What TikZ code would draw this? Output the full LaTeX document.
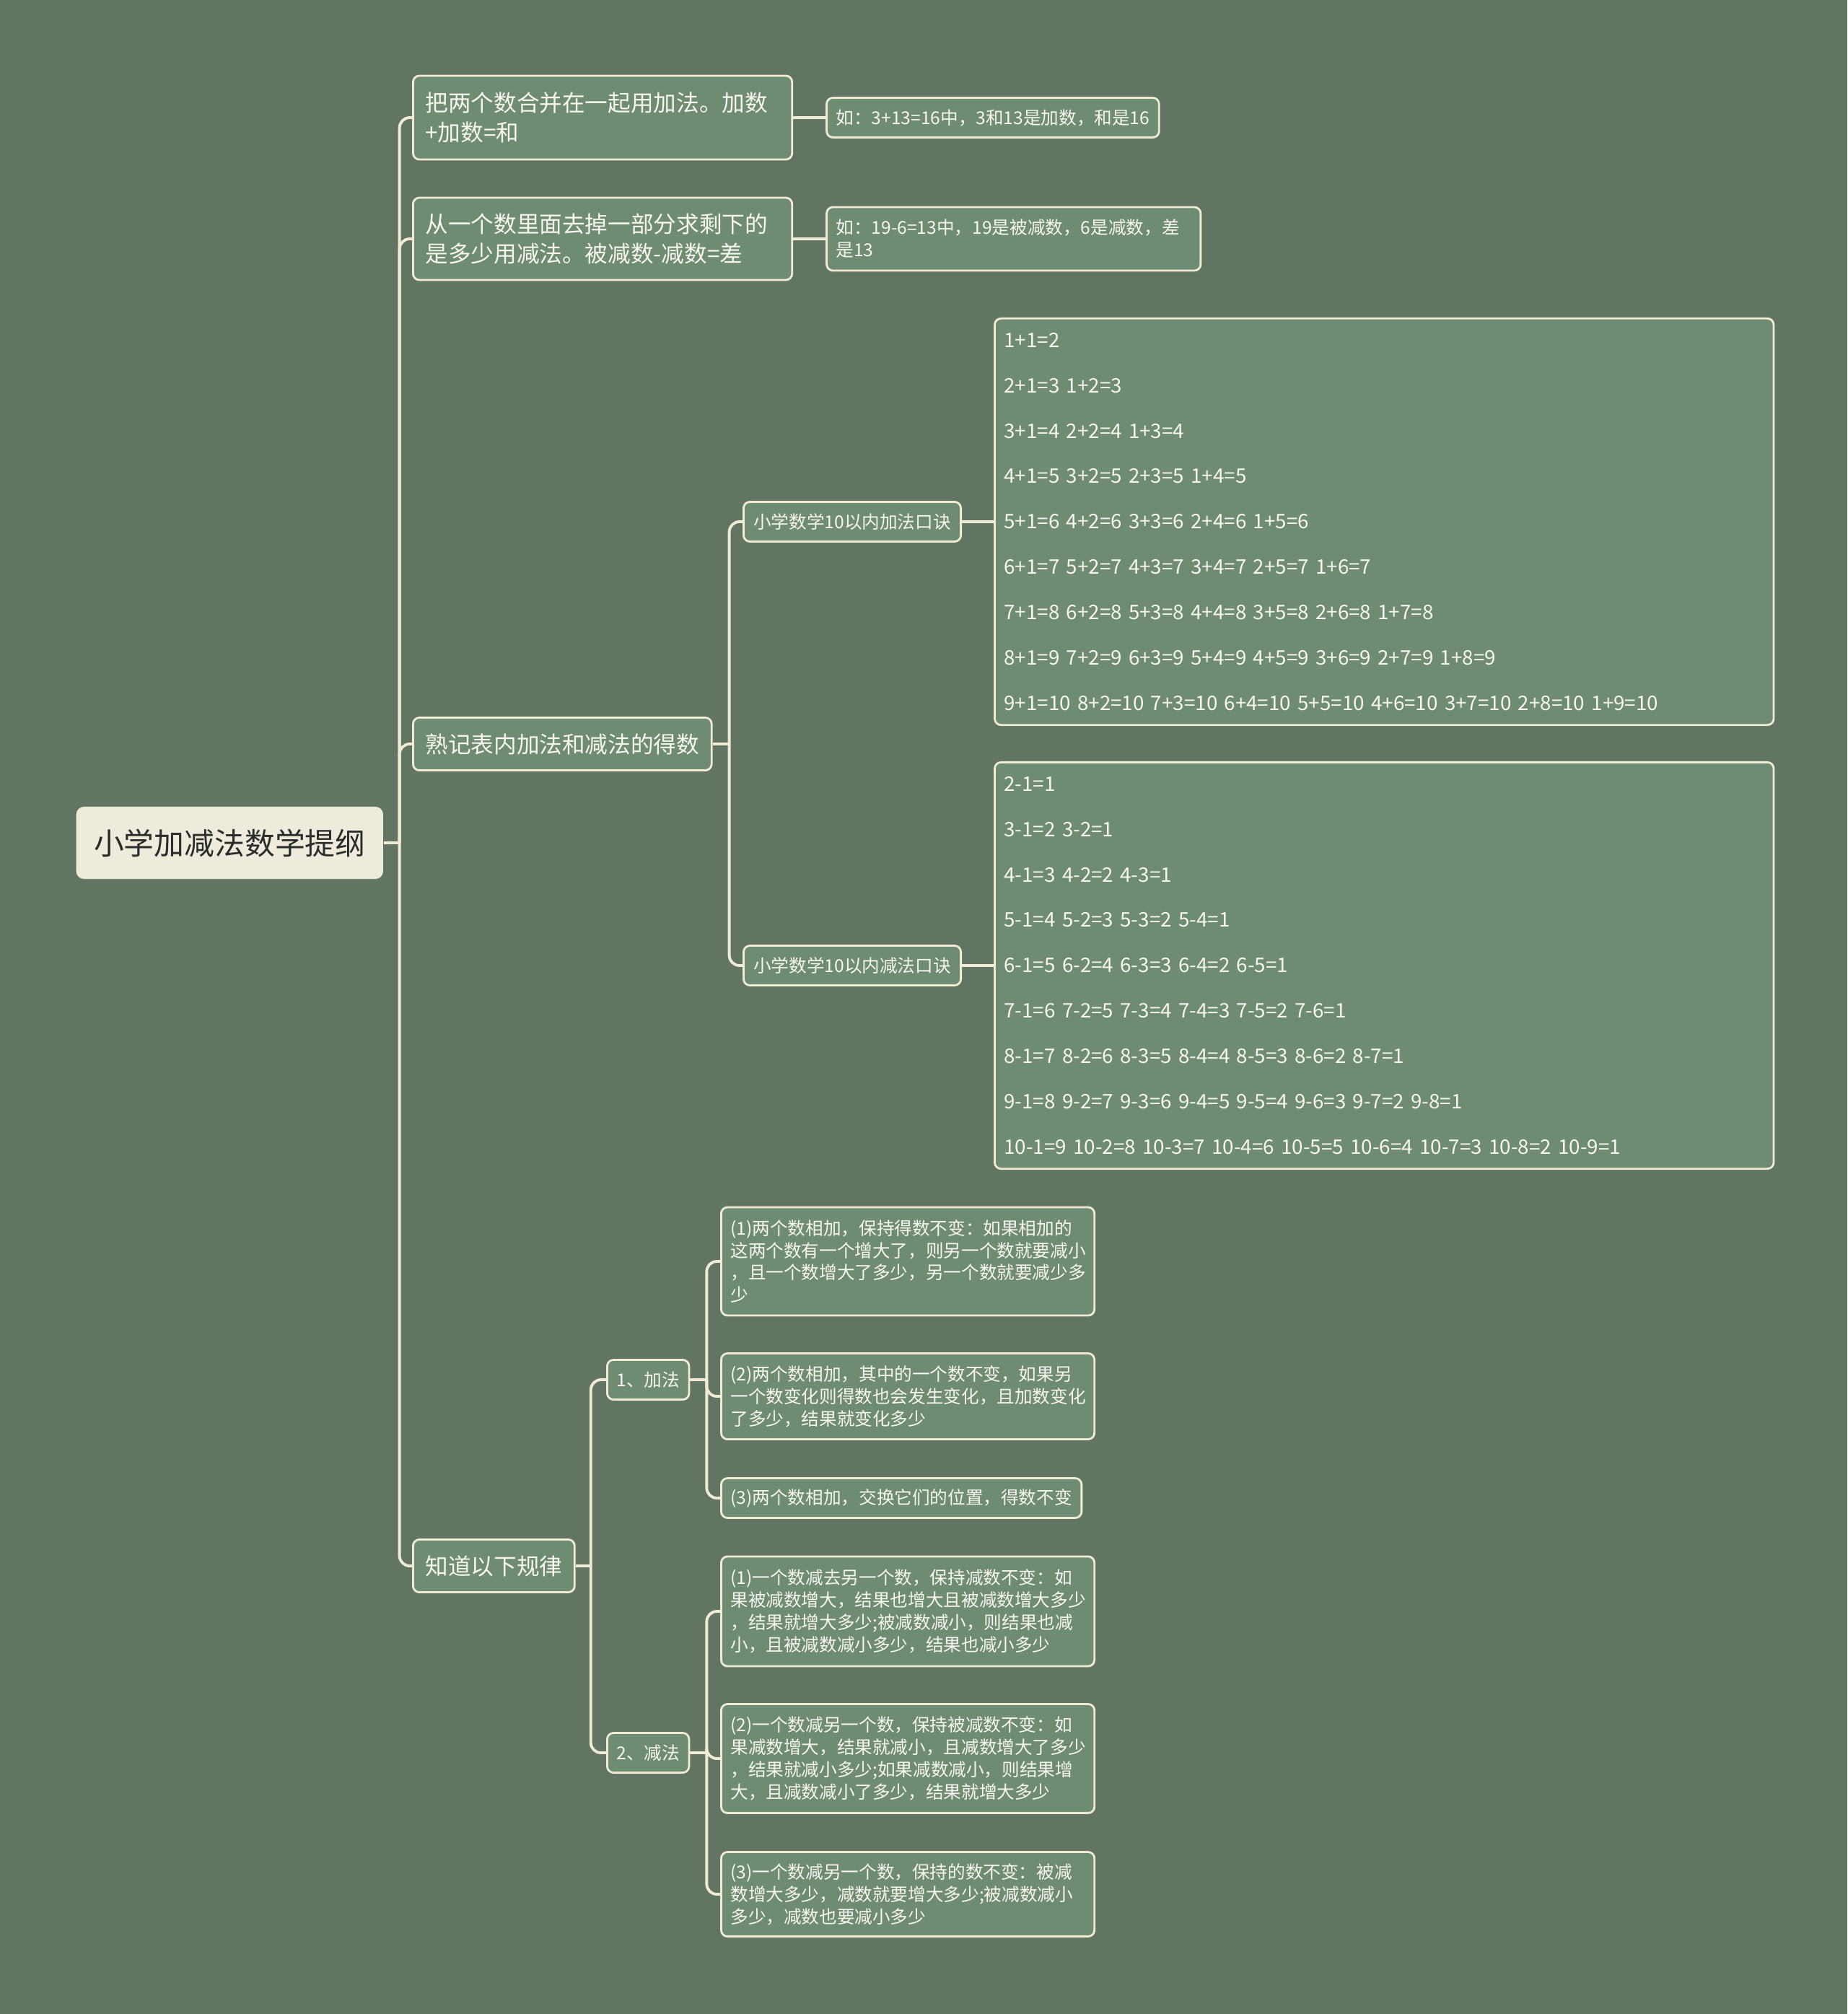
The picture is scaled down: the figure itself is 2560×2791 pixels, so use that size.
\documentclass[tikz,border=0pt]{standalone}
\usepackage{fontspec}
\setmainfont{Noto Sans CJK SC}
\usetikzlibrary{positioning, calc}
\definecolor{bgcol}{HTML}{627462}
\definecolor{boxcol}{HTML}{6E8B73}
\definecolor{linecol}{HTML}{F0EAD6}
\definecolor{rootcol}{HTML}{EFEBDC}
\definecolor{rootink}{HTML}{2B2B2B}
\definecolor{inkw}{HTML}{F8F6EF}
\tikzset{
	rootbox/.style={fill=rootcol, rounded corners=3pt, text=rootink, anchor=west,
		font=\fontsize{11.9}{14}\selectfont, minimum width=4.25cm, minimum height=1cm}
}
\tikzset{
	topic/.style={draw=linecol, line width=0.8pt, fill=boxcol, rounded corners=2.5pt,
		text=inkw, align=left, inner xsep=0.17cm, anchor=west,
		font=\fontsize{9}{11.7}\selectfont, minimum height=0.73cm},
	note/.style={topic, inner xsep=0.13cm, font=\fontsize{7}{8.8}\selectfont, minimum height=0.55cm},
	sums/.style={note, font=\fontsize{7.9}{17.9}\selectfont, text width=10.53cm, minimum height=5.63cm},
	link/.style={draw=linecol, line width=1.1pt, rounded corners=4pt}
}

\begin{document}
\begin{tikzpicture}[x=0.01cm, y=-0.01cm]
  \fill[bgcol] (0,0) rectangle (2560,2791);
  \node[rootbox] (root) at (105,1168) {小学加减法数学提纲};
  % first level
  \node[topic, text width=4.91cm, minimum height=1.16cm] (add) at (571,163)
    {把两个数合并在一起用加法。加数\\+加数=和};
  \node[note, right=0.45cm of add] (addeg) {如：3+13=16中，3和13是加数，和是16};
  \node[topic, text width=4.91cm, minimum height=1.14cm] (sub) at (571,331)
    {从一个数里面去掉一部分求剩下的\\是多少用减法。被减数-减数=差};
  \node[note, text width=4.92cm, minimum height=0.88cm, right=0.45cm of sub] (subeg)
    {如：19-6=13中，19是被减数，6是减数，差\\是13};
  \node[topic] (table) at (571,1031) {熟记表内加法和减法的得数};
  \node[topic] (rules) at (571,2170) {知道以下规律};
  % tables
  \node[note, minimum width=3.01cm] (addtab) at (1029,723) {小学数学10以内加法口诀};
  \node[note, minimum width=3.01cm] (subtab) at (1029,1338) {小学数学10以内减法口诀};
  \node[sums, right=0.44cm of addtab] (addsums) {1+1=2\\
    2+1=3 1+2=3\\
    3+1=4 2+2=4 1+3=4\\
    4+1=5 3+2=5 2+3=5 1+4=5\\
    5+1=6 4+2=6 3+3=6 2+4=6 1+5=6\\
    6+1=7 5+2=7 4+3=7 3+4=7 2+5=7 1+6=7\\
    7+1=8 6+2=8 5+3=8 4+4=8 3+5=8 2+6=8 1+7=8\\
    8+1=9 7+2=9 6+3=9 5+4=9 4+5=9 3+6=9 2+7=9 1+8=9\\
    9+1=10 8+2=10 7+3=10 6+4=10 5+5=10 4+6=10 3+7=10 2+8=10 1+9=10};
  \node[sums, right=0.44cm of subtab] (subsums) {2-1=1\\
    3-1=2 3-2=1\\
    4-1=3 4-2=2 4-3=1\\
    5-1=4 5-2=3 5-3=2 5-4=1\\
    6-1=5 6-2=4 6-3=3 6-4=2 6-5=1\\
    7-1=6 7-2=5 7-3=4 7-4=3 7-5=2 7-6=1\\
    8-1=7 8-2=6 8-3=5 8-4=4 8-5=3 8-6=2 8-7=1\\
    9-1=8 9-2=7 9-3=6 9-4=5 9-5=4 9-6=3 9-7=2 9-8=1\\
    10-1=9 10-2=8 10-3=7 10-4=6 10-5=5 10-6=4 10-7=3 10-8=2 10-9=1};
  % rules
  \node[note, minimum width=1.12cm] (plus) at (840,1912) {1、加法};
  \node[note, minimum width=1.12cm] (minus) at (840,2429) {2、减法};
  \node[note, text width=4.91cm, minimum height=1.5cm] (p1) at (998,1748)
    {(1)两个数相加，保持得数不变：如果相加的\\这两个数有一个增大了，则另一个数就要减小\\，且一个数增大了多少，另一个数就要减少多\\少};
  \node[note, text width=4.91cm, minimum height=1.19cm] (p2) at (998,1935)
    {(2)两个数相加，其中的一个数不变，如果另\\一个数变化则得数也会发生变化，且加数变化\\了多少，结果就变化多少};
  \node[note] (p3) at (998,2076) {(3)两个数相加，交换它们的位置，得数不变};
  \node[note, text width=4.91cm, minimum height=1.52cm] (m1) at (998,2233)
    {(1)一个数减去另一个数，保持减数不变：如\\果被减数增大，结果也增大且被减数增大多少\\，结果就增大多少;被减数减小，则结果也减\\小，且被减数减小多少，结果也减小多少};
  \node[note, text width=4.91cm, minimum height=1.51cm] (m2) at (998,2437)
    {(2)一个数减另一个数，保持被减数不变：如\\果减数增大，结果就减小，且减数增大了多少\\，结果就减小多少;如果减数减小，则结果增\\大，且减数减小了多少，结果就增大多少};
  \node[note, text width=4.91cm, minimum height=1.17cm] (m3) at (998,2625)
    {(3)一个数减另一个数，保持的数不变：被减\\数增大多少，减数就要增大多少;被减数减小\\多少，减数也要减小多少};
  % links
  \draw[link] (root.east) -- ++(22,0) coordinate (t0);
  \foreach \n in {add, sub, table, rules}
    \draw[link] (t0) |- (\n.west);
  \draw[link] (add) -- (addeg);
  \draw[link] (sub) -- (subeg);
  \draw[link] (table.east) -- ++(23,0) coordinate (t1);
  \foreach \n in {addtab, subtab}
    \draw[link] (t1) |- (\n.west);
  \draw[link] (addtab) -- (addsums);
  \draw[link] (subtab) -- (subsums);
  \draw[link] (rules.east) -- ++(21,0) coordinate (t2);
  \foreach \n in {plus, minus}
    \draw[link] (t2) |- (\n.west);
  \draw[link] (plus.east) -- ++(23,0) coordinate (t3);
  \foreach \n in {p1, p2, p3}
    \draw[link] (t3) |- (\n.west);
  \draw[link] (minus.east) -- ++(23,0) coordinate (t4);
  \foreach \n in {m1, m2, m3}
    \draw[link] (t4) |- (\n.west);
\end{tikzpicture}
\end{document}
